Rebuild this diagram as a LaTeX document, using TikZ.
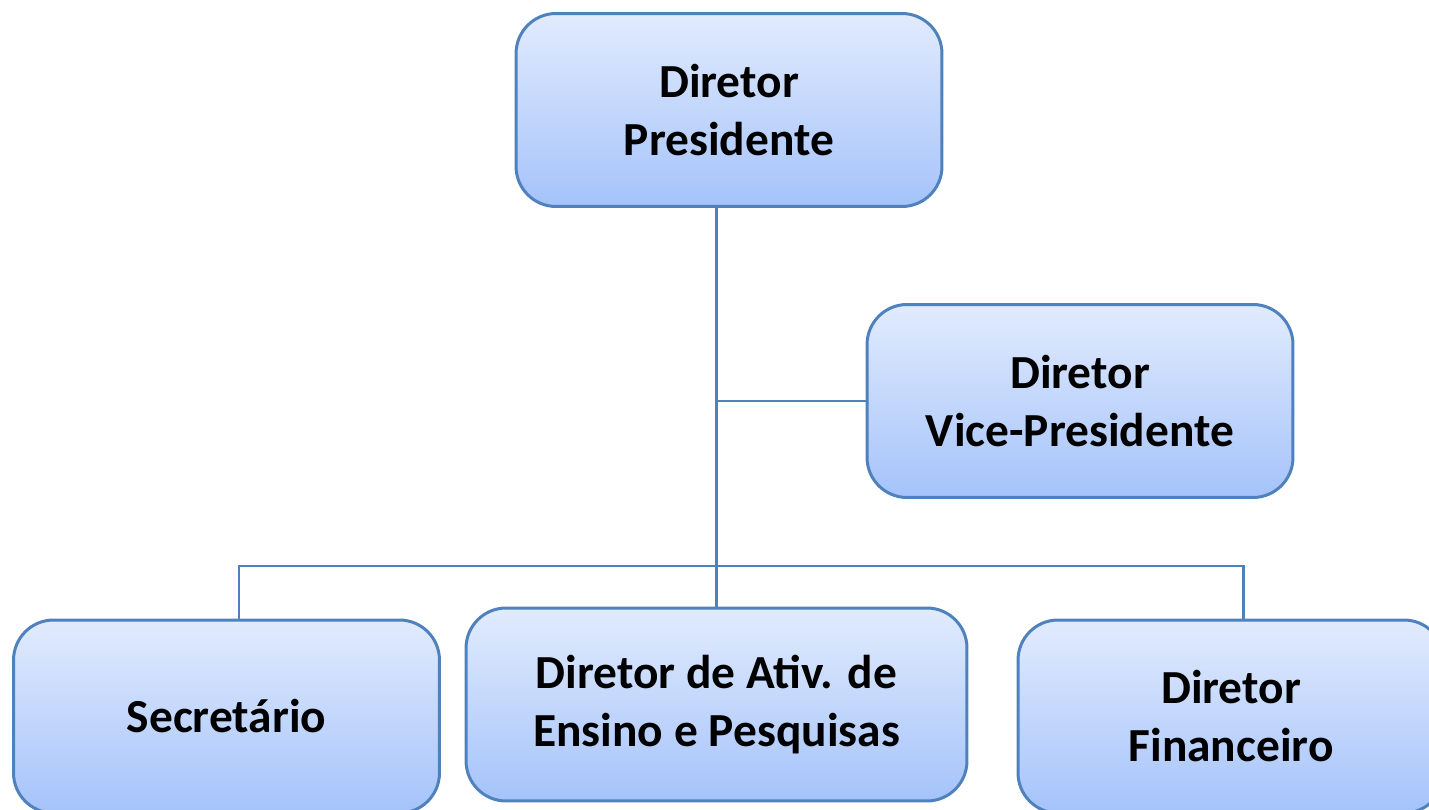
\documentclass[tikz,border=0pt]{standalone}
\usepackage{fontspec}
\setmainfont{Carlito}
\usetikzlibrary{calc}

\definecolor{boxline}{HTML}{4F81BD}
\definecolor{boxtop}{HTML}{E1EBFD}
\definecolor{boxbot}{HTML}{A5C3FA}

\begin{document}
\begin{tikzpicture}[x=0.02cm, y=-0.02cm,
  cargo/.style={draw=boxline, line width=1.7pt, rounded corners=0.8cm,
    top color=boxtop, bottom color=boxbot, minimum width=8.52cm,
    minimum height=3.86cm, align=center, inner sep=0pt,
    font=\fontsize{27}{33}\selectfont\bfseries},
  liga/.style={draw=boxline, line width=1.7pt}]
  \useasboundingbox (0,0) rectangle (1429,810);

  \node[cargo] (pres) at (729, 110) {Diretor\\Presidente};
  \node[cargo] (vice) at (1080, 401) {Diretor\\Vice-Presidente};

  \node[cargo] (secr) at (226.5, 716.5) {Secretário};
  \node[cargo, minimum width=10.02cm] (ensino) at (716.5, 704.5) {Diretor de Ativ. de\\Ensino e Pesquisas};
  \node[cargo] (financ) at (1231, 716.5) {Diretor\\Financeiro};

  \coordinate (bar) at (716.5, 566);

  \draw[liga] (pres.south -| ensino.north) -- (ensino.north);
  \draw[liga] (vice.west) -- (vice.west -| ensino.north);
  \draw[liga] ($(secr.north)+(12.5,0)$) |- (bar) -| ($(financ.north)+(12,0)$);
\end{tikzpicture}
\end{document}
